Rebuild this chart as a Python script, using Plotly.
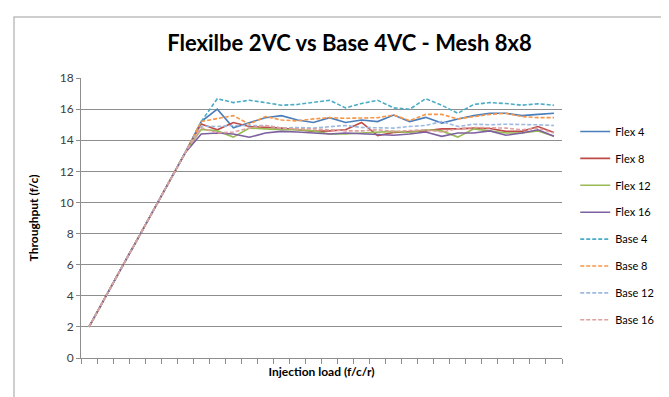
import plotly.graph_objects as go

n_points = 30
ramp = [2.0, 3.9, 5.75, 7.6, 9.45, 11.3, 13.2]

flex4 = ramp + [15.2, 16.0, 14.8, 15.1, 15.45, 15.58, 15.3, 15.14, 15.45, 15.14, 15.3, 15.2,
                15.62, 15.2, 15.47, 15.1, 15.37, 15.58, 15.73, 15.73, 15.58, 15.66, 15.73]
flex8 = ramp + [15.05, 14.67, 15.14, 14.88, 14.82, 14.78, 14.67, 14.57, 14.6, 14.67, 15.14, 14.3,
                14.5, 14.57, 14.6, 14.73, 14.73, 14.78, 14.75, 14.57, 14.57, 14.88, 14.5]
flex12 = ramp + [14.7, 14.6, 14.2, 14.78, 14.73, 14.67, 14.67, 14.6, 14.4, 14.4, 14.46, 14.5,
                 14.57, 14.5, 14.67, 14.6, 14.2, 14.73, 14.6, 14.46, 14.46, 14.6, 14.25]
flex16 = ramp + [14.4, 14.46, 14.4, 14.19, 14.46, 14.57, 14.53, 14.46, 14.4, 14.46, 14.4, 14.35,
                 14.32, 14.4, 14.53, 14.25, 14.46, 14.46, 14.6, 14.32, 14.46, 14.67, 14.25]
base4 = ramp + [15.2, 16.67, 16.42, 16.57, 16.42, 16.25, 16.3, 16.42, 16.57, 16.08, 16.36, 16.57,
                16.08, 15.99, 16.67, 16.25, 15.73, 16.3, 16.42, 16.36, 16.25, 16.34, 16.25]
base8 = ramp + [15.2, 15.37, 15.58, 15.03, 15.52, 15.3, 15.24, 15.37, 15.45, 15.41, 15.45, 15.45,
                15.62, 15.26, 15.66, 15.66, 15.37, 15.52, 15.66, 15.73, 15.52, 15.45, 15.45]
base12 = ramp + [14.9, 14.88, 14.95, 14.95, 14.95, 14.78, 14.82, 14.78, 14.88, 14.95, 14.82, 14.82,
                 14.78, 14.88, 14.95, 15.2, 14.88, 15.03, 14.99, 15.03, 15.03, 14.99, 14.95]
base16 = ramp + [14.8, 14.46, 14.53, 14.78, 14.95, 14.78, 14.73, 14.73, 14.67, 14.6, 14.6, 14.67,
                 14.57, 14.6, 14.67, 14.53, 14.73, 14.82, 14.78, 14.78, 14.67, 14.78, 14.46]

series_names = ["Flex 4", "Flex 8", "Flex 12", "Flex 16", "Base 4", "Base 8", "Base 12", "Base 16"]
series_values = [flex4, flex8, flex12, flex16, base4, base8, base12, base16]
series_colors = ["#4A7EBB", "#BE4B48", "#98B954", "#7D60A0", "#4BACC6", "#F79646", "#9DB9E0", "#E0A09E"]
series_dash = ["solid"] * 4 + ["4px,2px"] * 4

y_ticks = [0, 2, 4, 6, 8, 10, 12, 14, 16, 18]

x = list(range(n_points))

fig = go.Figure()
for i, (name, vals, col, dash) in enumerate(zip(series_names, series_values, series_colors, series_dash)):
    fig.add_trace(go.Scatter(
        x=x, y=vals, name=name, mode="lines",
        line=dict(color=col, width=1.6, dash=dash),
        legendgroup=f"g{i}",
    ))

FONT = "Lato"
grid_col = "#8E8E8E"

fig.update_layout(
    width=669, height=397,
    margin=dict(l=73, r=115, t=70, b=47),
    paper_bgcolor="white", plot_bgcolor="white",
    title=dict(text="<b>Flexilbe 2VC vs Base 4VC - Mesh 8x8</b>",
               x=341.5 / 669, xanchor="center", y=1 - 35 / 397, yanchor="middle",
               font=dict(family=FONT, size=22, color="#000000")),
    font=dict(family=FONT, size=11, color="#000000"),
    showlegend=True,
    legend=dict(x=1.0275, xanchor="left", y=(350 - 109) / 280, yanchor="top",
                font=dict(family=FONT, size=11, color="#000000"),
                tracegroupgap=7.9, bgcolor="rgba(0,0,0,0)", borderwidth=0),
    xaxis=dict(range=[-0.5, n_points - 0.5], showgrid=False, zeroline=False,
               showline=True, linecolor=grid_col, linewidth=1,
               tickvals=[k - 0.5 for k in range(n_points + 1)], ticktext=[""] * (n_points + 1),
               ticks="outside", ticklen=5, tickcolor=grid_col, tickwidth=1,
               title=dict(text="<b>Injection load (f/c/r)</b>", font=dict(family=FONT, size=12, color="#000000"), standoff=2)),
    yaxis=dict(range=[0, 18], tickvals=y_ticks, showgrid=True, gridcolor=grid_col, gridwidth=1,
               zeroline=False, showline=True, linecolor=grid_col, linewidth=1,
               ticks="outside", ticklen=4, tickcolor=grid_col, tickwidth=1,
               tickfont=dict(family=FONT, size=12, color="#404040"),
               title=dict(text="<b>Throughput (f/c)</b>", font=dict(family=FONT, size=12, color="#000000"), standoff=18)),
    shapes=[dict(type="rect", xref="paper", yref="paper",
                 x0=(6 - 73) / 481, x1=(720 - 73) / 481,
                 y0=(350 - 430) / 280, y1=(350 - 9) / 280,
                 line=dict(color="#BFBFBF", width=1.5), fillcolor="rgba(0,0,0,0)", layer="below")],
)

fig.write_html("out.html")
